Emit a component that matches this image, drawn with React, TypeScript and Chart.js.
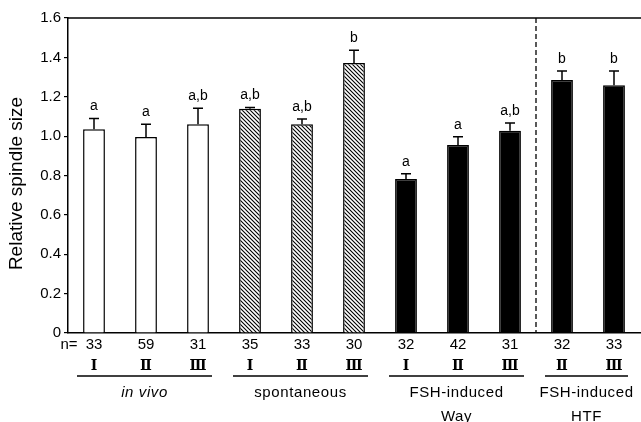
import React, { useEffect, useRef } from 'react';
import { Chart, registerables } from 'chart.js';

Chart.register(...registerables);

const categories = ['in vivo I', 'in vivo II', 'in vivo III', 'spontaneous I', 'spontaneous II', 'spontaneous III', 'FSH Way I', 'FSH Way II', 'FSH Way III', 'FSH HTF II', 'FSH HTF III'];
const means = [1.035, 0.995, 1.06, 1.139, 1.06, 1.371, 0.782, 0.955, 1.027, 1.285, 1.258];
const errors = [0.055, 0.065, 0.081, 0.007, 0.027, 0.065, 0.027, 0.042, 0.040, 0.046, 0.073];
const sigLetters = ['a', 'a', 'a,b', 'a,b', 'a,b', 'b', 'a', 'a', 'a,b', 'b', 'b'];
const nValues = ['33', '59', '31', '35', '33', '30', '32', '42', '31', '32', '33'];
const stages = ['Ⅰ', 'Ⅱ', 'Ⅲ', 'Ⅰ', 'Ⅱ', 'Ⅲ', 'Ⅰ', 'Ⅱ', 'Ⅲ', 'Ⅱ', 'Ⅲ'];
const fillKinds = ['open', 'open', 'open', 'hatched', 'hatched', 'hatched', 'solid', 'solid', 'solid', 'solid', 'solid'];
const groupLabels = [['in vivo'], ['spontaneous'], ['FSH-induced', 'Way'], ['FSH-induced', 'HTF']];
const groupItalic = [true, false, false, false];
const groupFirst = [0, 3, 6, 9];
const groupLast = [2, 5, 8, 10];
const dividerAfter = 8;
const yTicks = { min: 0, max: 1.6, step: 0.2 };
const yTitle = 'Relative spindle size';

function makeHatch(): CanvasPattern | string {
  const c = document.createElement('canvas');
  c.width = 4;
  c.height = 4;
  const g = c.getContext('2d');
  if (!g) return '#888';
  g.fillStyle = '#fff';
  g.fillRect(0, 0, 4, 4);
  g.strokeStyle = '#000';
  g.lineWidth = 1.1;
  g.beginPath();
  g.moveTo(-1, -1);
  g.lineTo(5, 5);
  g.moveTo(-1, 3);
  g.lineTo(1, 5);
  g.moveTo(3, -1);
  g.lineTo(5, 1);
  g.stroke();
  const p = g.createPattern(c, 'repeat');
  return p || '#888';
}

export default function App() {
  const ref = useRef<HTMLCanvasElement>(null);

  useEffect(() => {
    if (!ref.current) return;
    const hatch = makeHatch();
    const fills = fillKinds.map((k) => (k === 'open' ? '#ffffff' : k === 'hatched' ? hatch : '#000000'));

    const decor = {
      id: 'decor',
      afterDatasetsDraw(chart: any) {
        const ctx = chart.ctx;
        const area = chart.chartArea;
        const ys = chart.scales.y;
        const xs = chart.scales.x;
        const meta = chart.getDatasetMeta(0);
        ctx.save();
        // top frame line
        ctx.strokeStyle = '#000';
        ctx.lineWidth = 1.5;
        ctx.beginPath();
        ctx.moveTo(area.left, area.top);
        ctx.lineTo(area.right + 2, area.top);
        ctx.stroke();
        // divider
        const xd = (xs.getPixelForValue(dividerAfter) + xs.getPixelForValue(dividerAfter + 1)) / 2;
        ctx.setLineDash([5, 3]);
        ctx.lineWidth = 1.3;
        ctx.beginPath();
        ctx.moveTo(xd, area.top);
        ctx.lineTo(xd, area.bottom);
        ctx.stroke();
        ctx.setLineDash([]);
        // error bars and letters
        ctx.lineWidth = 1.5;
        ctx.fillStyle = '#000';
        ctx.font = '14px "Liberation Sans", Arial, sans-serif';
        ctx.textAlign = 'center';
        ctx.textBaseline = 'bottom';
        meta.data.forEach((bar: any, i: number) => {
          const x = bar.x;
          const y0 = ys.getPixelForValue(means[i]);
          const y1 = ys.getPixelForValue(means[i] + errors[i]);
          ctx.beginPath();
          ctx.moveTo(x, y0);
          ctx.lineTo(x, y1);
          ctx.moveTo(x - 5, y1);
          ctx.lineTo(x + 5, y1);
          ctx.stroke();
          ctx.fillText(sigLetters[i], x, y1 - 5);
        });
        // bottom labels
        ctx.font = '15px "Liberation Sans", Arial, sans-serif';
        ctx.textBaseline = 'middle';
        ctx.fillText('n=', area.left + 1, area.bottom + 12);
        meta.data.forEach((bar: any, i: number) => {
          ctx.font = '15px "Liberation Sans", Arial, sans-serif';
          ctx.fillText(nValues[i], bar.x, area.bottom + 12);
          ctx.font = 'bold 14px "DejaVu Serif", "Liberation Serif", serif';
          ctx.fillText(stages[i], bar.x, area.bottom + 33);
        });
        groupLabels.forEach((lines, g) => {
          const x0 = meta.data[groupFirst[g]].x - 17;
          const x1 = meta.data[groupLast[g]].x + 14;
          ctx.lineWidth = 1.5;
          ctx.beginPath();
          ctx.moveTo(x0, area.bottom + 43);
          ctx.lineTo(x1, area.bottom + 43);
          ctx.stroke();
          const cx = (x0 + x1) / 2;
          ctx.font = (groupItalic[g] ? 'italic ' : '') + '15px "Liberation Sans", Arial, sans-serif';
          (ctx as any).letterSpacing = '0.6px';
          lines.forEach((t, k) => {
            ctx.fillText(t, cx, area.bottom + 60 + k * 24);
          });
          (ctx as any).letterSpacing = '0px';
        });
        // y title
        ctx.translate(17, (area.top + area.bottom) / 2 + 8);
        ctx.rotate(-Math.PI / 2);
        ctx.font = '19px "Liberation Sans", Arial, sans-serif';
        ctx.fillText(yTitle, 0, 0);
        ctx.restore();
      },
    };

    const chart = new Chart(ref.current, {
      type: 'bar',
      data: {
        labels: categories,
        datasets: [
          {
            data: means,
            backgroundColor: fills as any,
            borderColor: '#000',
            borderWidth: 1.5,
            borderSkipped: 'bottom',
            categoryPercentage: 1,
            barPercentage: 0.42,
          },
        ],
      },
      options: {
        animation: false,
        responsive: false,
        maintainAspectRatio: false,
        layout: { padding: { left: 0, right: 1, top: 18, bottom: 0 } },
        plugins: { legend: { display: false }, tooltip: { enabled: false } },
        scales: {
          x: {
            grid: { display: false, drawTicks: false },
            ticks: { display: false },
            border: { display: true, color: '#000', width: 1.5 },
            afterFit(scale: any) {
              scale.height = 89;
            },
          },
          y: {
            min: yTicks.min,
            max: yTicks.max,
            ticks: {
              stepSize: yTicks.step,
              color: '#000',
              padding: 3,
              font: { family: '"Liberation Sans", Arial, sans-serif', size: 15 },
              callback: (v: any) => (Number(v) === 0 ? '0' : Number(v).toFixed(1)),
            },
            grid: { drawOnChartArea: false, drawTicks: true, tickLength: 4, color: '#000', lineWidth: 1.2 },
            border: { display: true, color: '#000', width: 1.5 },
            afterFit(scale: any) {
              scale.width = 68;
            },
          },
        },
      },
      plugins: [decor],
    });
    return () => chart.destroy();
  }, []);

  return (
    <div style={{ position: 'fixed', left: 0, top: 0, width: 641, height: 422, background: '#fff' }}>
      <canvas ref={ref} width={641} height={422} style={{ width: 641, height: 422 }} />
    </div>
  );
}
